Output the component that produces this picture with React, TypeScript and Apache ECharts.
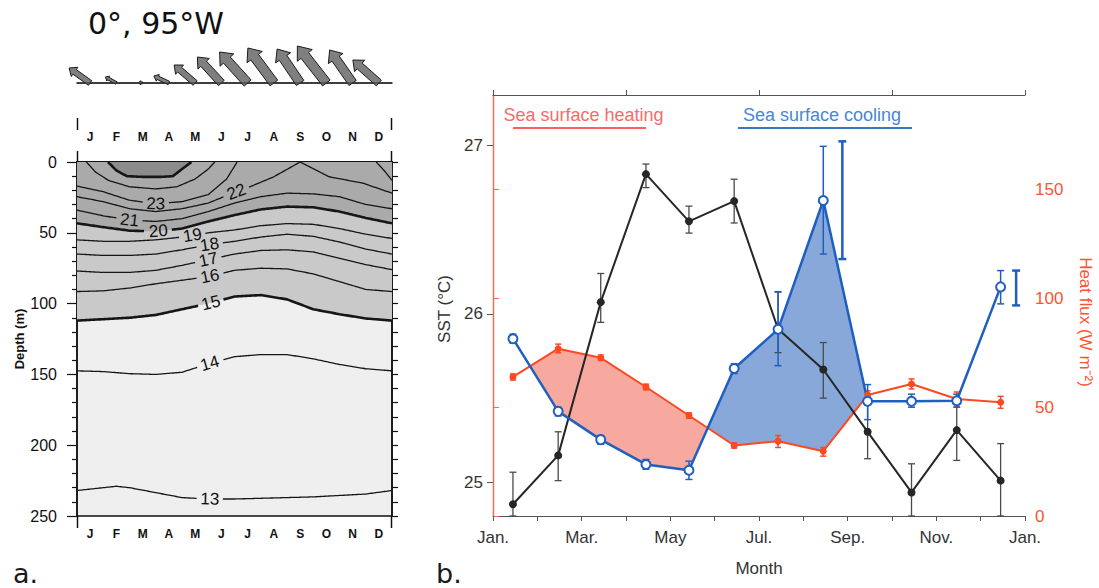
import { useEffect, useRef } from 'react';
import * as echarts from 'echarts';

const FONT = 'Liberation Sans, Arial, Helvetica, sans-serif';

// ---------- panel a: wind vectors (0°, 95°W) ----------
const monthLetters = ['J', 'F', 'M', 'A', 'M', 'J', 'J', 'A', 'S', 'O', 'N', 'D'];
const monthIdx = monthLetters.map((_, i) => String(i));
const windMonths = [0.5, 1.5, 2.5, 3.5, 4.5, 5.5, 6.5, 7.5, 8.5, 9.5, 10.5, 11.5];
const windU = [-4.2, -2.2, -0.8, -3.0, -4.2, -4.8, -5.6, -5.2, -4.6, -5.8, -4.6, -5.2];
const windV = [3.0, 1.2, 0.1, 1.4, 3.6, 5.2, 6.2, 7.0, 6.8, 7.4, 6.6, 4.6];

// ---------- panel a: isotherms, [month, depth (m)] ----------
const iso25 = [[1.18, 0], [1.5, 6], [1.9, 10], [2.5, 10.5], [3.2, 10.5], [3.65, 10], [4.0, 5], [4.36, 0]];
const iso24 = [[0.36, 0], [0.7, 7], [1.2, 13], [2.0, 17.5], [3.0, 19], [3.8, 17.5], [4.5, 12], [5.0, 5], [5.25, 0]];
const iso23a = [[0, 17], [1, 21], [2, 27], [3, 29.5], [4, 28], [5, 23], [5.7, 12], [6.1, 0]];
const iso23b = [[11.4, 0], [11.7, 6], [12, 13]];
const iso22 = [[0, 24.5], [1, 28], [2, 33], [3, 35], [4, 33], [5, 29], [6, 21.5], [6.6, 17.4], [7.5, 10.4], [8.5, 0], [9.6, 10.4], [10.9, 15], [12, 22]];
const iso21 = [[0, 34], [1, 38], [2, 41], [3, 42], [4, 40], [5, 35], [6, 29], [7, 24.5], [8, 22], [9, 22.5], [10, 24.5], [11, 30], [12, 33]];
const iso20 = [[0, 43.3], [1, 46], [2, 48.5], [3, 49], [4, 47], [5, 42], [6, 37.5], [7, 33.5], [8, 31.5], [9, 32], [10, 35], [11, 39.5], [12, 43.3]];
const iso19 = [[0, 55], [1, 56], [2, 56], [3, 55], [4, 53], [5, 50], [6, 48], [7, 45], [8, 43.5], [9, 44], [10, 47], [11, 51], [12, 54]];
const iso18 = [[0, 65], [1, 66], [2, 66], [3, 65], [4, 62], [5, 58.5], [6, 56], [7, 53], [8, 51], [9, 52.5], [10, 56.5], [11, 61.5], [12, 65]];
const iso17 = [[0, 77], [1, 78], [2, 78], [3, 76.5], [4, 73], [5, 69], [6, 65], [7, 62.5], [8, 62], [9, 63.5], [10, 68], [11, 72.5], [12, 76]];
const iso16 = [[0, 91.5], [1, 91], [2, 89], [3, 86], [4, 83.5], [5, 81], [6, 76.5], [7, 75], [8, 75.5], [9, 79], [10, 84.5], [11, 90], [12, 91.5]];
const iso15 = [[0, 112], [1, 111], [2, 110], [3, 108], [4, 104], [5, 100], [6, 95], [7, 94], [8, 97], [9, 104], [10, 107.5], [11, 110.5], [12, 112]];
const iso14 = [[0, 147.5], [1, 148], [2, 149.5], [3, 150], [4, 148.5], [5, 142.5], [6, 137.5], [7, 136], [8, 136], [9, 139], [10, 143], [11, 146], [12, 147.5]];
const iso13 = [[0, 232], [1, 230], [1.5, 229], [2, 230], [3, 233.5], [4, 237], [5, 238], [6, 238], [7, 237.5], [8, 237], [9, 236.5], [10, 235.5], [11, 234.5], [12, 232]];

const labelTemps = [23, 22, 21, 20, 19, 18, 17, 16, 15, 14, 13];
const labelMonths = [3.0, 6.07, 2.0, 3.1, 4.4, 5.05, 5.0, 5.06, 5.1, 5.06, 5.06];

const isotherms = [
  { t: 25, pts: iso25, thick: true },
  { t: 24, pts: iso24, thick: false },
  { t: 23, pts: iso23a, thick: false },
  { t: 23.1, pts: iso23b, thick: false },
  { t: 22, pts: iso22, thick: false },
  { t: 21, pts: iso21, thick: false },
  { t: 20, pts: iso20, thick: true },
  { t: 19, pts: iso19, thick: false },
  { t: 18, pts: iso18, thick: false },
  { t: 17, pts: iso17, thick: false },
  { t: 16, pts: iso16, thick: false },
  { t: 15, pts: iso15, thick: true },
  { t: 14, pts: iso14, thick: false },
  { t: 13, pts: iso13, thick: false },
];

// ---------- panel b ----------
const rightMonthLabels = ['Jan.', '', 'Mar.', '', 'May', '', 'Jul.', '', 'Sep.', '', 'Nov.', '', 'Jan.'];
const obsMonths = [0.45, 1.47, 2.43, 3.45, 4.42, 5.44, 6.43, 7.45, 8.45, 9.44, 10.46, 11.45];
const sst = [24.87, 25.16, 26.07, 26.83, 26.55, 26.67, 25.91, 25.67, 25.30, 24.94, 25.31, 25.01];
const sstLow = [24.80, 25.01, 25.95, 26.75, 26.48, 26.54, 25.77, 25.50, 25.14, 24.80, 25.13, 24.80];
const sstHigh = [25.06, 25.30, 26.24, 26.89, 26.64, 26.80, 26.13, 25.83, 25.46, 25.11, 25.48, 25.23];
const heatingFlux = [63.9, 76.9, 72.7, 59.3, 46.2, 32.4, 34.4, 29.8, 55.6, 60.7, 53.8, 52.3];
const heatingLow = [62.5, 75.0, 71.5, 58.0, 45.0, 31.2, 31.5, 27.5, 54.0, 58.4, 50.5, 49.5];
const heatingHigh = [65.3, 79.0, 74.0, 60.6, 47.4, 33.6, 37.0, 31.5, 57.5, 63.0, 57.0, 55.0];
const coolingFlux = [81.5, 48.1, 35.1, 23.7, 21.0, 67.8, 85.8, 145.0, 52.7, 52.7, 53.0, 105.3];
const coolingLow = [79.5, 46.0, 33.0, 21.5, 16.8, 65.5, 69.1, 120.4, 44.3, 50.0, 50.0, 97.5];
const coolingHigh = [83.5, 50.0, 37.0, 26.0, 25.2, 70.0, 103.1, 169.9, 60.4, 56.0, 56.0, 112.8];
const extraBarMonths = [7.88, 11.8];
const extraBarLow = [118.1, 96.8];
const extraBarHigh = [172.2, 112.8];
const heatingSpan = [1, 4];
const coolingSpan = [5, 7];

// ---------- helpers ----------
function depthAt(pts: number[][], m: number) {
  for (let i = 0; i < pts.length - 1; i++) {
    const [m0, d0] = pts[i];
    const [m1, d1] = pts[i + 1];
    if (m >= m0 && m <= m1) return d0 + ((m - m0) / (m1 - m0)) * (d1 - d0);
  }
  return pts[pts.length - 1][1];
}

function densify(px: number[][]) {
  const out: number[][] = [];
  for (let i = 0; i < px.length - 1; i++) {
    const [x0, y0] = px[i];
    const [x1, y1] = px[i + 1];
    const n = Math.max(1, Math.ceil(Math.hypot(x1 - x0, y1 - y0) / 1.5));
    for (let k = 0; k < n; k++) out.push([x0 + ((x1 - x0) * k) / n, y0 + ((y1 - y0) * k) / n]);
  }
  out.push(px[px.length - 1]);
  return out;
}

function runsOutside(pts: number[][], c: number[] | null, r: number) {
  if (!c) return [pts];
  const runs: number[][][] = [];
  let cur: number[][] = [];
  for (const p of pts) {
    if (Math.hypot(p[0] - c[0], p[1] - c[1]) > r) cur.push(p);
    else {
      if (cur.length > 1) runs.push(cur);
      cur = [];
    }
  }
  if (cur.length > 1) runs.push(cur);
  return runs;
}

function contourRender(_params: any, api: any) {
  const coord = (p: number[]) => api.coord(p);
  const children: any[] = [];
  const poly = (pts: number[][], fill: string) => ({
    type: 'polygon',
    shape: { points: pts.map(coord) },
    style: { fill },
    silent: true,
  });
  children.push(poly([[0, 0], ...iso15, [12, 0]], '#c9c9c9'));
  children.push(poly([[0, 0], ...iso20, [12, 0]], '#aaaaaa'));
  children.push(poly(iso25, '#8c8c8c'));

  const labels: any[] = [];
  isotherms.forEach((iso) => {
    const li = labelTemps.indexOf(iso.t);
    let center: number[] | null = null;
    if (li >= 0) {
      const m = labelMonths[li];
      center = coord([m, depthAt(iso.pts, m)]);
      const a = coord([m - 0.25, depthAt(iso.pts, Math.max(iso.pts[0][0], m - 0.25))]);
      const b = coord([m + 0.25, depthAt(iso.pts, Math.min(iso.pts[iso.pts.length - 1][0], m + 0.25))]);
      const rot = -Math.atan2(b[1] - a[1], b[0] - a[0]);
      labels.push({
        type: 'text',
        x: center[0],
        y: center[1],
        rotation: rot,
        style: {
          text: String(iso.t),
          fontSize: 17,
          fontFamily: FONT,
          fill: '#111',
          align: 'center',
          verticalAlign: 'middle',
        },
      });
    }
    const dense = densify(iso.pts.map(coord));
    runsOutside(dense, center, 13).forEach((run) => {
      children.push({
        type: 'polyline',
        shape: { points: run },
        style: { stroke: '#161616', lineWidth: iso.thick ? 2.6 : 1.3, fill: null },
        silent: true,
      });
    });
  });
  return { type: 'group', children: [...children, ...labels] };
}

function windRender(_params: any, api: any) {
  const m = api.value(0);
  const u = api.value(2);
  const v = api.value(3);
  const base = api.coord([m, 0]);
  const S = 5;
  const dx = u * S;
  const dy = -v * S;
  const L = Math.hypot(dx, dy) || 1;
  const ux = dx / L;
  const uy = dy / L;
  const nx = -uy;
  const ny = ux;
  const bw = Math.max(2, Math.min(9.5, 0.22 * L)) / 2;
  const hw = bw * 2;
  const hl = Math.min(L * 0.5, Math.max(3, Math.min(12, 0.26 * L)));
  const tip = [base[0] + dx, base[1] + dy];
  const neck = [tip[0] - ux * hl, tip[1] - uy * hl];
  const pts = [
    [base[0] + nx * bw, base[1] + ny * bw],
    [neck[0] + nx * bw, neck[1] + ny * bw],
    [neck[0] + nx * hw, neck[1] + ny * hw],
    tip,
    [neck[0] - nx * hw, neck[1] - ny * hw],
    [neck[0] - nx * bw, neck[1] - ny * bw],
    [base[0] - nx * bw, base[1] - ny * bw],
  ];
  return {
    type: 'polygon',
    shape: { points: pts },
    style: { fill: '#7f7f7f', stroke: '#1c1c1c', lineWidth: 1 },
  };
}

function makeErrorRender(color: string, width: number, cap: number) {
  return (_params: any, api: any) => {
    const x = api.value(0);
    const p1 = api.coord([x, api.value(1)]);
    const p2 = api.coord([x, api.value(2)]);
    const st = { stroke: color, lineWidth: width };
    return {
      type: 'group',
      children: [
        { type: 'line', shape: { x1: p1[0], y1: p1[1], x2: p2[0], y2: p2[1] }, style: st },
        { type: 'line', shape: { x1: p1[0] - cap, y1: p1[1], x2: p1[0] + cap, y2: p1[1] }, style: st },
        { type: 'line', shape: { x1: p2[0] - cap, y1: p2[1], x2: p2[0] + cap, y2: p2[1] }, style: st },
      ],
    };
  };
}

function crossing(i: number) {
  const d0 = heatingFlux[i] - coolingFlux[i];
  const d1 = heatingFlux[i + 1] - coolingFlux[i + 1];
  const t = d0 / (d0 - d1);
  return [
    obsMonths[i] + t * (obsMonths[i + 1] - obsMonths[i]),
    heatingFlux[i] + t * (heatingFlux[i + 1] - heatingFlux[i]),
  ];
}

function fillRender(_params: any, api: any) {
  const coord = (p: number[]) => api.coord(p);
  const [h0, h1] = heatingSpan;
  const heatPts: number[][] = [crossing(h0 - 1)];
  for (let i = h0; i <= h1; i++) heatPts.push([obsMonths[i], heatingFlux[i]]);
  heatPts.push(crossing(h1));
  for (let i = h1; i >= h0; i--) heatPts.push([obsMonths[i], coolingFlux[i]]);
  const [c0, c1] = coolingSpan;
  const coolPts: number[][] = [crossing(c0 - 1)];
  for (let i = c0; i <= c1; i++) coolPts.push([obsMonths[i], coolingFlux[i]]);
  coolPts.push(crossing(c1));
  for (let i = c1; i >= c0; i--) coolPts.push([obsMonths[i], heatingFlux[i]]);
  return {
    type: 'group',
    children: [
      { type: 'polygon', shape: { points: heatPts.map(coord) }, style: { fill: '#f7a89f' } },
      { type: 'polygon', shape: { points: coolPts.map(coord) }, style: { fill: '#87a8d8' } },
    ],
  };
}

const leftLabelStyle = { fontSize: 12, fontWeight: 'bold', color: '#111', fontFamily: FONT };
const txt = (text: string, x: number, y: number, fontSize: number, fill: string, align = 'center', fontFamily = FONT, rotation = 0) => ({
  type: 'text', x, y, rotation,
  style: { text, fontSize, fontFamily, fill, align, verticalAlign: 'middle', textAlign: align, textVerticalAlign: 'middle' },
});
const seg = (x1: number, y1: number, x2: number, y2: number, stroke: string, lineWidth: number) => ({
  type: 'line', shape: { x1, y1, x2, y2 }, style: { stroke, lineWidth },
});

const option: any = {
  animation: false,
  backgroundColor: '#ffffff',
  grid: [
    { left: 77, top: 162, width: 315, height: 354, show: true, backgroundColor: '#efefef', borderColor: '#111', borderWidth: 1.5 },
    { left: 77, top: 48, width: 315, height: 70 },
    { left: 493, top: 95, width: 532, height: 421 },
  ],
  xAxis: [
    {
      gridIndex: 0, type: 'category', data: monthIdx, position: 'bottom',
      axisLine: { lineStyle: { color: '#111', width: 1.5 } },
      axisTick: { length: 6, lineStyle: { color: '#111', width: 1.2 } },
      axisLabel: { ...leftLabelStyle, margin: 12, formatter: (_v: string, i: number) => monthLetters[i] },
    },
    {
      gridIndex: 0, type: 'category', data: monthIdx, position: 'top',
      axisLine: { lineStyle: { color: '#111', width: 1.5 } },
      axisTick: { length: 7, lineStyle: { color: '#111', width: 1.2 } },
      axisLabel: { show: false },
    },
    { gridIndex: 0, type: 'value', min: 0, max: 12, show: false },
    {
      gridIndex: 1, type: 'category', data: monthIdx, position: 'bottom',
      axisLine: { lineStyle: { color: '#111', width: 1.5 } },
      axisTick: { length: 6, lineStyle: { color: '#111', width: 1.2 } },
      axisLabel: { ...leftLabelStyle, margin: 13, formatter: (_v: string, i: number) => monthLetters[i] },
    },
    { gridIndex: 1, type: 'value', min: 0, max: 12, show: false },
    {
      gridIndex: 2, type: 'value', min: 0, max: 12, interval: 1, position: 'bottom',
      axisLine: { lineStyle: { color: '#555', width: 1.2 } },
      axisTick: { length: 5, lineStyle: { color: '#555' } },
      axisLabel: { fontSize: 17, color: '#333', fontFamily: FONT, margin: 13, formatter: (v: number) => rightMonthLabels[Math.round(v)] },
      splitLine: { show: false },
      name: 'Month', nameLocation: 'middle', nameGap: 44,
      nameTextStyle: { fontSize: 17, color: '#333', fontFamily: FONT },
    },
    {
      gridIndex: 2, type: 'value', min: 0, max: 12, interval: 3, position: 'top',
      axisLine: { lineStyle: { color: '#555', width: 1.2 } },
      axisTick: { length: 5, lineStyle: { color: '#555' } },
      axisLabel: { show: false },
      splitLine: { show: false },
    },
  ],
  yAxis: [
    {
      gridIndex: 0, type: 'value', min: 0, max: 250, interval: 50, inverse: true, position: 'left',
      axisLine: { show: true, lineStyle: { color: '#111', width: 1.5 } },
      axisTick: { show: true, length: 10, lineStyle: { color: '#111', width: 1.2 } },
      minorTick: { show: true, splitNumber: 5, length: 5, lineStyle: { color: '#111', width: 1.2 } },
      axisLabel: { fontSize: 16, color: '#111', fontFamily: FONT, margin: 20 },
      splitLine: { show: false },
      name: 'Depth (m)', nameLocation: 'middle', nameGap: 50, nameRotate: 90,
      nameTextStyle: { fontSize: 13, fontWeight: 'bold', color: '#111', fontFamily: FONT },
    },
    {
      gridIndex: 0, type: 'value', min: 0, max: 250, interval: 50, inverse: true, position: 'right',
      axisLine: { show: true, lineStyle: { color: '#111', width: 1.5 } },
      axisTick: { show: true, length: 6, lineStyle: { color: '#111', width: 1.2 } },
      minorTick: { show: true, splitNumber: 5, length: 6, lineStyle: { color: '#111', width: 1.2 } },
      axisLabel: { show: false },
      splitLine: { show: false },
    },
    { gridIndex: 1, type: 'value', min: -1, max: 1, show: false },
    {
      gridIndex: 2, type: 'value', min: 24.8, max: 27.3, position: 'left',
      axisLine: { show: true, lineStyle: { color: '#555', width: 1.2 } },
      axisTick: { show: true, length: 6, customValues: [25, 26, 27], lineStyle: { color: '#555' } },
      axisLabel: { customValues: [25, 26, 27], fontSize: 17, color: '#333', fontFamily: FONT, margin: 10 },
      splitLine: { show: false },
    },
    {
      gridIndex: 2, type: 'value', min: 0, max: 193.5, position: 'right',
      axisLine: { show: true, lineStyle: { color: '#ff6a4c', width: 1.2 } },
      axisTick: { show: true, length: 6, customValues: [0, 50, 100, 150], lineStyle: { color: '#ff6a4c' } },
      axisLabel: { customValues: [0, 50, 100, 150], fontSize: 17, color: '#ff5230', fontFamily: FONT, margin: 10 },
      splitLine: { show: false },
    },
  ],
  graphic: [
    txt('0°, 95°W', 88, 23, 30, '#111', 'left', 'DejaVu Sans'),
    txt('a.', 13, 573, 27, '#1a1a1a', 'left', 'DejaVu Sans'),
    txt('b.', 436, 573, 27, '#1a1a1a', 'left', 'DejaVu Sans'),
    txt('SST (°C)', 444, 309, 17, '#333', 'center', FONT, Math.PI / 2),
    txt('Heat flux (W m⁻²)', 1085, 322, 17, '#ff5230', 'center', FONT, -Math.PI / 2),
    txt('Sea surface heating', 583.5, 115, 18, '#f46c6c'),
    seg(513, 128, 646, 128, '#ff5f5f', 2),
    txt('Sea surface cooling', 822, 115, 18, '#4a86d2'),
    seg(738, 128, 912, 128, '#3a76c6', 2),
    txt('Heating', 622, 411, 18, '#f2502e'),
    txt('Cooling', 776, 388, 18, '#2c68bd'),
    seg(77.5, 516, 77.5, 528, '#111', 1.5),
    seg(391.5, 516, 391.5, 528, '#111', 1.5),
    seg(77.5, 118, 77.5, 130, '#111', 1.5),
    seg(391.5, 118, 391.5, 130, '#111', 1.5),
    seg(77.5, 151, 77.5, 162, '#111', 1.5),
    seg(391.5, 151, 391.5, 162, '#111', 1.5),
  ],
  series: [
    {
      name: 'Isotherms', type: 'custom', coordinateSystem: 'cartesian2d', xAxisIndex: 2, yAxisIndex: 0,
      data: [[6, 125]], renderItem: contourRender, silent: true,
    },
    {
      name: 'Baseline', type: 'line', xAxisIndex: 4, yAxisIndex: 2, data: [[0, 0], [12, 0]],
      symbol: 'none', lineStyle: { color: '#333', width: 1.2 }, silent: true,
    },
    {
      name: 'Wind', type: 'custom', coordinateSystem: 'cartesian2d', xAxisIndex: 4, yAxisIndex: 2,
      data: windMonths.map((m, i) => [m, 0, windU[i], windV[i]]), renderItem: windRender, silent: true,
    },
    {
      name: 'Fills', type: 'custom', coordinateSystem: 'cartesian2d', xAxisIndex: 5, yAxisIndex: 4,
      data: [[6, 100]], renderItem: fillRender, silent: true,
    },
    {
      name: 'Heating error', type: 'custom', coordinateSystem: 'cartesian2d', xAxisIndex: 5, yAxisIndex: 4,
      data: obsMonths.map((m, i) => [m, heatingLow[i], heatingHigh[i]]), renderItem: makeErrorRender('#fb4a22', 1.5, 3), silent: true,
    },
    {
      name: 'Surface heating', type: 'line', xAxisIndex: 5, yAxisIndex: 4,
      data: obsMonths.map((m, i) => [m, heatingFlux[i]]),
      symbol: 'circle', symbolSize: 7, itemStyle: { color: '#fb4a22' }, lineStyle: { color: '#fb4a22', width: 2 },
    },
    {
      name: 'SST error', type: 'custom', coordinateSystem: 'cartesian2d', xAxisIndex: 5, yAxisIndex: 3,
      data: obsMonths.map((m, i) => [m, sstLow[i], sstHigh[i]]), renderItem: makeErrorRender('#4a4a4a', 1.3, 3.5), silent: true,
    },
    {
      name: 'SST', type: 'line', xAxisIndex: 5, yAxisIndex: 3,
      data: obsMonths.map((m, i) => [m, sst[i]]),
      symbol: 'circle', symbolSize: 8, itemStyle: { color: '#262626' }, lineStyle: { color: '#262626', width: 2 },
    },
    {
      name: 'Cooling error', type: 'custom', coordinateSystem: 'cartesian2d', xAxisIndex: 5, yAxisIndex: 4,
      data: obsMonths.map((m, i) => [m, coolingLow[i], coolingHigh[i]]), renderItem: makeErrorRender('#1f5fbf', 1.5, 3.5), silent: true,
    },
    {
      name: 'Cooling error (alt)', type: 'custom', coordinateSystem: 'cartesian2d', xAxisIndex: 5, yAxisIndex: 4,
      data: extraBarMonths.map((m, i) => [m, extraBarLow[i], extraBarHigh[i]]), renderItem: makeErrorRender('#1f5fbf', 2.5, 4), silent: true,
    },
    {
      name: 'Surface cooling', type: 'line', xAxisIndex: 5, yAxisIndex: 4,
      data: obsMonths.map((m, i) => [m, coolingFlux[i]]),
      symbol: 'circle', symbolSize: 9,
      itemStyle: { color: '#ffffff', borderColor: '#1f5fbf', borderWidth: 2 },
      lineStyle: { color: '#1f5fbf', width: 2.5 },
    },
  ],
};

export default function App() {
  const ref = useRef<HTMLDivElement>(null);
  useEffect(() => {
    const chart = echarts.init(ref.current as HTMLDivElement, null, { renderer: 'svg' });
    chart.setOption(option);
    return () => chart.dispose();
  }, []);
  return <div ref={ref} style={{ position: 'fixed', left: 0, top: 0, width: 1099, height: 588 }} />;
}
